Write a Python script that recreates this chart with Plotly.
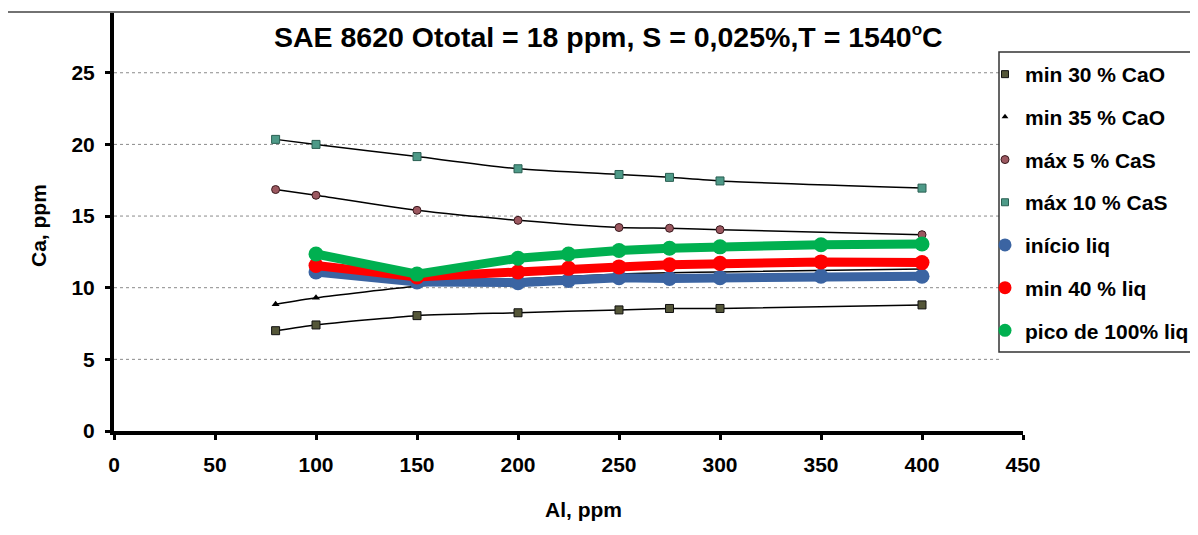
import plotly.graph_objects as go

# ---------------- data ----------------
al_cao = [80, 100, 150, 200, 250, 275, 300, 400]
ca_min30_cao = [7.0, 7.4, 8.05, 8.25, 8.45, 8.55, 8.55, 8.8]
ca_min35_cao = [8.85, 9.3, 10.1, 10.6, 10.95, 11.05, 11.1, 11.3]
ca_max5_cas = [16.85, 16.45, 15.4, 14.7, 14.2, 14.15, 14.05, 13.7]
ca_max10_cas = [20.35, 20.0, 19.15, 18.3, 17.9, 17.7, 17.45, 16.95]

al_liq = [100, 150, 200, 225, 250, 275, 300, 350, 400]
ca_inicio_liq = [11.1, 10.4, 10.35, 10.5, 10.7, 10.65, 10.7, 10.8, 10.8]
ca_min40_liq = [11.55, 10.75, 11.1, 11.35, 11.45, 11.6, 11.7, 11.8, 11.75]
ca_pico100_liq = [12.35, 10.95, 12.05, 12.35, 12.6, 12.75, 12.85, 13.0, 13.05]

names = ["min 30 % CaO", "min 35 % CaO", "máx 5 % CaS", "máx 10 % CaS",
         "início liq", "min 40 % liq", "pico de 100% liq"]
x_ticks = [0, 50, 100, 150, 200, 250, 300, 350, 400, 450]
y_ticks = [0, 5, 10, 15, 20, 25]

FONT = "Liberation Sans, Arial, sans-serif"
OFF = 8  # page body margin offset
W, H = 1198, 535
ML, MT = 114 - OFF, 13 - OFF
PW, PH = 909, 418
MR = W - ML - PW
MB = H - MT - PH


def px(xs):
    return (xs - OFF - ML) / PW


def py(ys):
    return (MT + PH - (ys - OFF)) / PH


thin = [
    (ca_min30_cao, dict(symbol="square", size=8, color="#545638", line=dict(color="#111", width=1)), names[0],
     dict(symbol="square", size=7, color="#545638", line=dict(color="#111", width=1))),
    (ca_min35_cao, dict(symbol="triangle-up", size=7, color="#000"), names[1],
     dict(symbol="triangle-up", size=6, color="#000")),
    (ca_max5_cas, dict(symbol="circle", size=8, color="#9C5860", line=dict(color="#3a1a1e", width=1)), names[2],
     dict(symbol="circle", size=8, color="#9C5860", line=dict(color="#3a1a1e", width=1))),
    (ca_max10_cas, dict(symbol="square", size=8, color="#4E9A88", line=dict(color="#2a5f52", width=1)), names[3],
     dict(symbol="square", size=7, color="#4E9A88", line=dict(color="#2a5f52", width=1))),
]
thick = [
    (ca_inicio_liq, "#3B64A2", names[4]),
    (ca_min40_liq, "#FF0000", names[5]),
    (ca_pico100_liq, "#00B050", names[6]),
]

fig = go.Figure()
for ys, mk, nm, lmk in thin:
    fig.add_trace(go.Scatter(x=al_cao, y=ys, mode="lines+markers", name=nm,
                             line=dict(color="black", width=1.5, shape="spline", smoothing=0.6),
                             marker=mk, showlegend=False))
for ys, col, nm in thick:
    fig.add_trace(go.Scatter(x=al_liq, y=ys, mode="lines+markers", name=nm,
                             line=dict(color=col, width=9),
                             marker=dict(symbol="circle", size=15, color=col),
                             showlegend=False))

# legend-only entries (marker only, as in the reference)
for i, (ys, mk, nm, lmk) in enumerate(thin):
    fig.add_trace(go.Scatter(x=[None], y=[None], mode="markers", name=nm, marker=lmk,
                             legendgroup=f"g{i}", showlegend=True))
for j, (ys, col, nm) in enumerate(thick):
    fig.add_trace(go.Scatter(x=[None], y=[None], mode="markers", name=nm,
                             marker=dict(symbol="circle", size=13, color=col),
                             legendgroup=f"h{j}", showlegend=True))

shapes = []
# outer frame
shapes.append(dict(type="rect", xref="paper", yref="paper", x0=px(7), x1=px(1240), y0=py(580), y1=py(12),
                   line=dict(color="#444", width=1.5), fillcolor="rgba(0,0,0,0)", layer="below"))
# dotted gridlines ending at the legend's left edge
for v in y_ticks[1:]:
    shapes.append(dict(type="line", xref="paper", yref="y", x0=0, x1=px(999), y0=v, y1=v,
                       line=dict(color="#8a8a8a", width=1, dash="dot"), layer="below"))
# legend box
shapes.append(dict(type="rect", xref="paper", yref="paper", x0=px(999), x1=px(1240), y0=py(352), y1=py(52),
                   line=dict(color="#333", width=1.5), fillcolor="white", layer="below"))

annotations = [
    dict(text="SAE 8620 Ototal = 18 ppm, S = 0,025%,T = 1540<sup><span style='font-size:17px'>o</span></sup>C",
         xref="paper", yref="paper",
         x=px(608), y=py(37), xanchor="center", yanchor="middle", showarrow=False,
         font=dict(family=FONT, size=28.5, color="black", weight="bold")),
    dict(text="Ca, ppm", xref="paper", yref="paper", x=px(38), y=py(226), textangle=-90,
         xanchor="center", yanchor="middle", showarrow=False,
         font=dict(family=FONT, size=21, color="black", weight="bold")),
    dict(text="Al, ppm", xref="paper", yref="paper", x=px(583), y=py(509),
         xanchor="center", yanchor="middle", showarrow=False,
         font=dict(family=FONT, size=21, color="black", weight="bold")),
]

fig.update_layout(
    width=W, height=H,
    margin=dict(l=ML, r=MR, t=MT, b=MB, pad=0),
    paper_bgcolor="white", plot_bgcolor="white",
    font=dict(family=FONT, color="black"),
    shapes=shapes, annotations=annotations,
    legend=dict(x=px(985), y=py(54), xanchor="left", yanchor="top",
                bgcolor="rgba(0,0,0,0)", borderwidth=0,
                traceorder="grouped", tracegroupgap=12.4, itemwidth=30,
                font=dict(family=FONT, size=21, color="black", weight="bold")),
    xaxis=dict(range=[0, 450], tickvals=x_ticks, ticktext=[str(t) for t in x_ticks],
               showgrid=False, zeroline=False, showline=True, linecolor="black", linewidth=4,
               ticks="outside", ticklen=5, tickwidth=3, tickcolor="black",
               ticklabelstandoff=7,
               tickfont=dict(family=FONT, size=21, color="black", weight="bold")),
    yaxis=dict(range=[0, PH / 14.33], tickvals=y_ticks, ticktext=[str(t) for t in y_ticks],
               showgrid=False, zeroline=False, showline=True, linecolor="black", linewidth=4,
               ticks="outside", ticklen=5, tickwidth=3, tickcolor="black",
               ticklabelstandoff=6,
               tickfont=dict(family=FONT, size=21, color="black", weight="bold")),
    hovermode=False,
)

fig.write_html("out.html")
